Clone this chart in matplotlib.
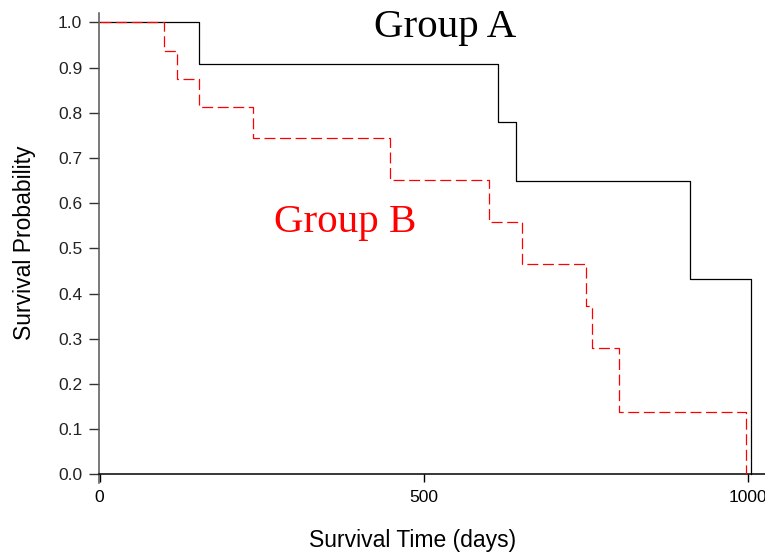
import matplotlib
matplotlib.use("Agg")
import matplotlib.pyplot as plt

# Group A Kaplan-Meier steps
time_a = [0, 153.6, 615, 642, 910.5, 1004]
surv_a = [1.0, 0.909, 0.779, 0.649, 0.433, 0.0]

# Group B Kaplan-Meier steps
time_b = [0, 100, 120, 153, 236, 448, 600, 652, 750, 759, 801, 997]
surv_b = [1.0, 0.9375, 0.875, 0.8125, 0.745, 0.652, 0.559, 0.466, 0.373, 0.279, 0.139, 0.0]

x_ticks = [0, 500, 1000]
y_ticks = [0.0, 0.1, 0.2, 0.3, 0.4, 0.5, 0.6, 0.7, 0.8, 0.9, 1.0]

plt.rcParams['lines.scale_dashes'] = False
plt.rcParams['font.family'] = ['Liberation Sans', 'DejaVu Sans']

fig = plt.figure(figsize=(7.65, 5.53), dpi=100)
ax = fig.add_axes([99 / 765, 70 / 553, 666 / 765, 470 / 553])

ax.step(time_a, surv_a, where='post', color='black', lw=0.9, zorder=2)
ax.step(time_b, surv_b, where='post', color='red', lw=0.9,
        dashes=(7.9, 3.3), zorder=3)

ax.set_xlim(-1, 1026)
ax.set_ylim(-0.019, 1.021)

ax.spines['top'].set_visible(False)
ax.spines['right'].set_visible(False)
ax.spines['bottom'].set_position(('data', 0))
ax.spines['left'].set_color('#555555')
ax.spines['bottom'].set_color('black')
ax.spines['left'].set_linewidth(1.1)
ax.spines['bottom'].set_linewidth(1.1)

ax.set_xticks(x_ticks)
ax.set_xticklabels([str(t) for t in x_ticks])
ax.set_yticks(y_ticks)
ax.set_yticklabels([f"{t:.1f}" for t in y_ticks])
ax.tick_params(axis='x', direction='out', length=5.5, width=1, pad=6,
               labelsize=12.5, colors='black')
ax.tick_params(axis='y', direction='out', length=7, width=1, pad=5,
               labelsize=12.5, color='#333333', labelcolor='#222222')

ax.set_xlabel('Survival Time (days)', fontsize=16.5)
ax.set_ylabel('Survival Probability', fontsize=16.5)
ax.xaxis.set_label_coords((413 - 99) / 666, (483 - 541) / 470)
ax.xaxis.label.set_va('center')
ax.yaxis.set_label_coords((24 - 99) / 666, (483 - 243) / 470)
ax.yaxis.label.set_va('center')

ax.text(532.7, 0.968, 'Group A', ha='center', va='baseline', fontsize=29.5,
        family=['Liberation Serif', 'DejaVu Serif'], color='black')
ax.text(378, 0.536, 'Group B', ha='center', va='baseline', fontsize=29.5,
        family=['Liberation Serif', 'DejaVu Serif'], color='red')

fig.savefig('out.png', dpi=100)
